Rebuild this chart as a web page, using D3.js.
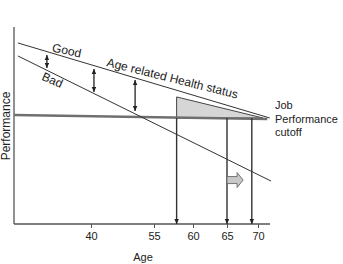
<!DOCTYPE html>
<html><head><meta charset="utf-8">
<script src="https://cdn.jsdelivr.net/npm/d3@7"></script>
<style>html,body{margin:0;padding:0;background:#fff}svg{display:block}text{font-family:"Liberation Sans",Arial,sans-serif;fill:#222}</style>
</head><body>
<script>
// ---- data ----
const tickAges = [40, 55, 60, 65, 70];
const tickLabels = ["40", "55", "60", "65", "70"];
const goodLine = [[22.6, 91.9], [71.9, 53.8]];      // [age, performance]
const badLine = [[22.6, 85.3], [72.1, 21.8]];
const cutoffLine = [[21.7, 55.3], [71.5, 53.3]];
const shaded = [[57.9, 64.5], [57.9, 53.8], [70.8, 53.8]];
const downArrowAges = [57.9, 65, 69.0];
const downArrowTop = 53.8;
const doubleArrows = [[29.5, 85.8, 79.2], [40.7, 78.7, 67.0], [50.5, 73.1, 57.4]]; // age, top, bottom
const blockArrow = [65, 67.6, 22.3]; // from age, to age, performance
const cutoffLabel = ["Job", "Performance", "cutoff"];
const lineLabels = [
  { text: "Good", age: 30.6, perf: 87.6, angle: 12 },
  { text: "Age related Health status", age: 43.6, perf: 80.2, angle: 14 },
  { text: "Bad", age: 28.1, perf: 73.4, angle: 24 }
];

// ---- layout ----
const W = 343, H = 264;
const svg = d3.select("body").append("svg").attr("width", W).attr("height", H);
const x = d3.scaleLinear().domain(tickAges).range([91, 154, 193, 227, 258]);
const y = d3.scaleLinear().domain([0, 100]).range([224, 27]);
const line = d3.line().x(d => x(d[0])).y(d => y(d[1]));

const defs = svg.append("defs");
defs.append("marker").attr("id", "ah").attr("viewBox", "0 0 10 10").attr("refX", 10).attr("refY", 5)
  .attr("markerWidth", 5).attr("markerHeight", 5).attr("markerUnits", "userSpaceOnUse").attr("orient", "auto-start-reverse")
  .append("path").attr("d", "M0,0.5L10,5L0,9.5Z").attr("fill", "#222");

// axes
const axisX0 = 14, axisX1 = 270;
svg.append("line").attr("x1", axisX0).attr("x2", axisX1).attr("y1", y(0)).attr("y2", y(0)).attr("stroke", "#555").attr("stroke-width", 1.3);
svg.append("line").attr("x1", axisX0).attr("x2", axisX0).attr("y1", y(0)).attr("y2", y(100)).attr("stroke", "#555").attr("stroke-width", 1.3);
const ax = svg.append("g").attr("transform", `translate(0,${y(0)})`)
  .call(d3.axisBottom(x).tickValues(tickAges).tickFormat((d, i) => tickLabels[i]).tickSize(4).tickPadding(4));
ax.select(".domain").remove();
ax.selectAll(".tick line").attr("stroke", "#555");
ax.selectAll("text").attr("font-size", 11).attr("fill", "#333").style("font-family", "Liberation Sans, Arial, sans-serif");

svg.append("text").attr("x", 143).attr("y", 261).attr("text-anchor", "middle").attr("font-size", 11).text("Age");
svg.append("text").attr("transform", `translate(10,126) rotate(-90)`).attr("text-anchor", "middle").attr("font-size", 12).text("Performance");

// shaded triangle
svg.append("path").attr("d", line(shaded) + "Z").attr("fill", "#d6d6d6").attr("stroke", "#444").attr("stroke-width", 1);

// cutoff line
svg.append("path").attr("d", line(cutoffLine)).attr("stroke", "#6f6f6f").attr("stroke-width", 2.4).attr("fill", "none");

// good & bad lines
svg.append("path").attr("d", line(goodLine)).attr("stroke", "#333").attr("stroke-width", 1).attr("fill", "none");
svg.append("path").attr("d", line(badLine)).attr("stroke", "#333").attr("stroke-width", 1).attr("fill", "none");

// down arrows
downArrowAges.forEach(a => {
  svg.append("line").attr("x1", x(a)).attr("x2", x(a)).attr("y1", y(downArrowTop)).attr("y2", y(0))
    .attr("stroke", "#333").attr("stroke-width", 1.4).attr("marker-end", "url(#ah)");
});

// double arrows
doubleArrows.forEach(d => {
  svg.append("line").attr("x1", x(d[0])).attr("x2", x(d[0])).attr("y1", y(d[1])).attr("y2", y(d[2]))
    .attr("stroke", "#333").attr("stroke-width", 1.4).attr("marker-start", "url(#ah)").attr("marker-end", "url(#ah)");
});

// block arrow
{
  const x0 = x(blockArrow[0]), x1 = x(blockArrow[1]), yc = y(blockArrow[2]);
  const hx = x1 - 6;
  const p = `M${x0},${yc - 3.5}L${hx},${yc - 3.5}L${hx},${yc - 7.5}L${x1},${yc}L${hx},${yc + 7.5}L${hx},${yc + 3.5}L${x0},${yc + 3.5}Z`;
  svg.append("path").attr("d", p).attr("fill", "#c8c8c8").attr("stroke", "#666").attr("stroke-width", 0.9);
}

// line labels
lineLabels.forEach(l => {
  svg.append("text").attr("transform", `translate(${x(l.age)},${y(l.perf)}) rotate(${l.angle})`)
    .attr("font-size", 12).text(l.text);
});

// cutoff label
cutoffLabel.forEach((t, i) => {
  svg.append("text").attr("x", 275).attr("y", 109 + i * 13.5).attr("font-size", 11).text(t);
});
</script>
</body></html>
